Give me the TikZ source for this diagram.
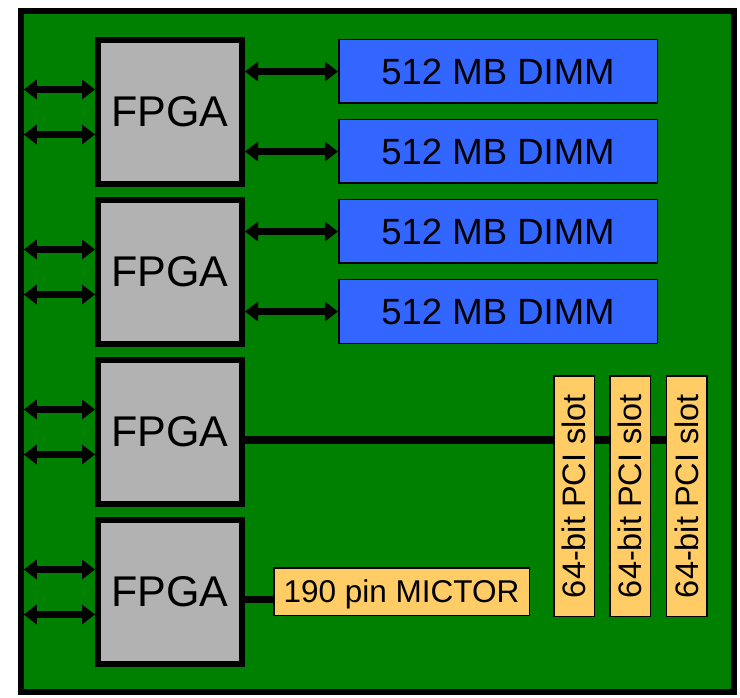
\documentclass[tikz,border=0pt]{standalone}
\usepackage{fontspec}
\setmainfont{Liberation Sans}
\definecolor{pcbgreen}{RGB}{0,128,0}
\definecolor{fpgagray}{RGB}{178,178,178}
\definecolor{dimmblue}{RGB}{51,102,255}
\definecolor{slotorange}{RGB}{255,204,102}
\usetikzlibrary{arrows.meta,calc}

\begin{document}
\begin{tikzpicture}[x=1pt, y=-1pt,
    fpga/.style={rectangle, draw=black, line width=6pt, fill=fpgagray, inner sep=0pt,
      minimum width=144pt, minimum height=144pt, font=\fontsize{43}{50}\selectfont},
    dimm/.style={rectangle, draw=black, line width=1.5pt, fill=dimmblue, inner sep=0pt,
      minimum width=318.5pt, minimum height=63.5pt, font=\fontsize{36.5}{42}\selectfont},
    slot/.style={rectangle, draw=black, line width=1.5pt, fill=slotorange, inner sep=0pt,
      minimum width=40.5pt, minimum height=240.5pt, font=\fontsize{32.5}{38}\selectfont},
    link/.style={line width=6.5pt, {Triangle[width=19pt,length=13pt]}-{Triangle[width=19pt,length=13pt]}},
    bus/.style={line width=7.5pt}
  ]
    \useasboundingbox (0,0) rectangle (740,698);

    % Board
    \node[rectangle, draw=black, line width=6.5pt, fill=pcbgreen, inner sep=0pt,
      minimum width=713pt, minimum height=681pt] (board) at (377.5,351.5) {};
    \coordinate (edge) at ([xshift=6pt]board.west);

    % FPGAs
    \node[fpga] (fpga1) at (170,112) {FPGA};
    \node[fpga] (fpga2) at (170,272) {FPGA};
    \node[fpga] (fpga3) at (170,432) {FPGA};
    \node[fpga] (fpga4) at (170,592) {FPGA};

    % Memory
    \node[dimm] (dimm1) at (498,71.5)  {512 MB DIMM};
    \node[dimm] (dimm2) at (498,151.5) {512 MB DIMM};
    \node[dimm] (dimm3) at (498,231.5) {512 MB DIMM};
    \node[dimm] (dimm4) at (498,311.5) {512 MB DIMM};

    % PCI slots and MICTOR
    \node[slot] (slot1) at (574,496)   {\rotatebox{90}{64-bit PCI slot}};
    \node[slot] (slot2) at (630,496)   {\rotatebox{90}{64-bit PCI slot}};
    \node[slot] (slot3) at (686.5,496) {\rotatebox{90}{64-bit PCI slot}};
    \node[rectangle, draw=black, line width=1.5pt, fill=slotorange, inner sep=0pt, text depth=0pt,
      minimum width=255.5pt, minimum height=47.5pt, font=\fontsize{31.5}{36}\selectfont]
      (mictor) at (401.5,591.5) {190 pin MICTOR};

    % Off-board links
    \foreach \i in {1,...,4} {
      \coordinate (ina\i) at ($(fpga\i.north west)!0.35!(fpga\i.south west)$);
      \coordinate (inb\i) at ($(fpga\i.north west)!0.65!(fpga\i.south west)$);
      \draw[link] (edge |- ina\i) -- (ina\i);
      \draw[link] (edge |- inb\i) -- (inb\i);
    }

    % FPGA to DIMM
    \draw[link] (fpga1.east |- dimm1.west) -- (dimm1.west);
    \draw[link] (fpga1.east |- dimm2.west) -- (dimm2.west);
    \draw[link] (fpga2.east |- dimm3.west) -- (dimm3.west);
    \draw[link] (fpga2.east |- dimm4.west) -- (dimm4.west);

    % PCI bus
    \coordinate (pcibus) at ([yshift=-8pt]fpga3.east);
    \draw[bus] (pcibus) -- (pcibus -| slot1.west);
    \draw[bus] (pcibus -| slot1.east) -- (pcibus -| slot2.west);
    \draw[bus] (pcibus -| slot2.east) -- (pcibus -| slot3.west);

    % Trace port
    \coordinate (tracebus) at ([yshift=-7.5pt]fpga4.east);
    \draw[bus] (tracebus) -- (tracebus -| mictor.west);
  \end{tikzpicture}
\end{document}
